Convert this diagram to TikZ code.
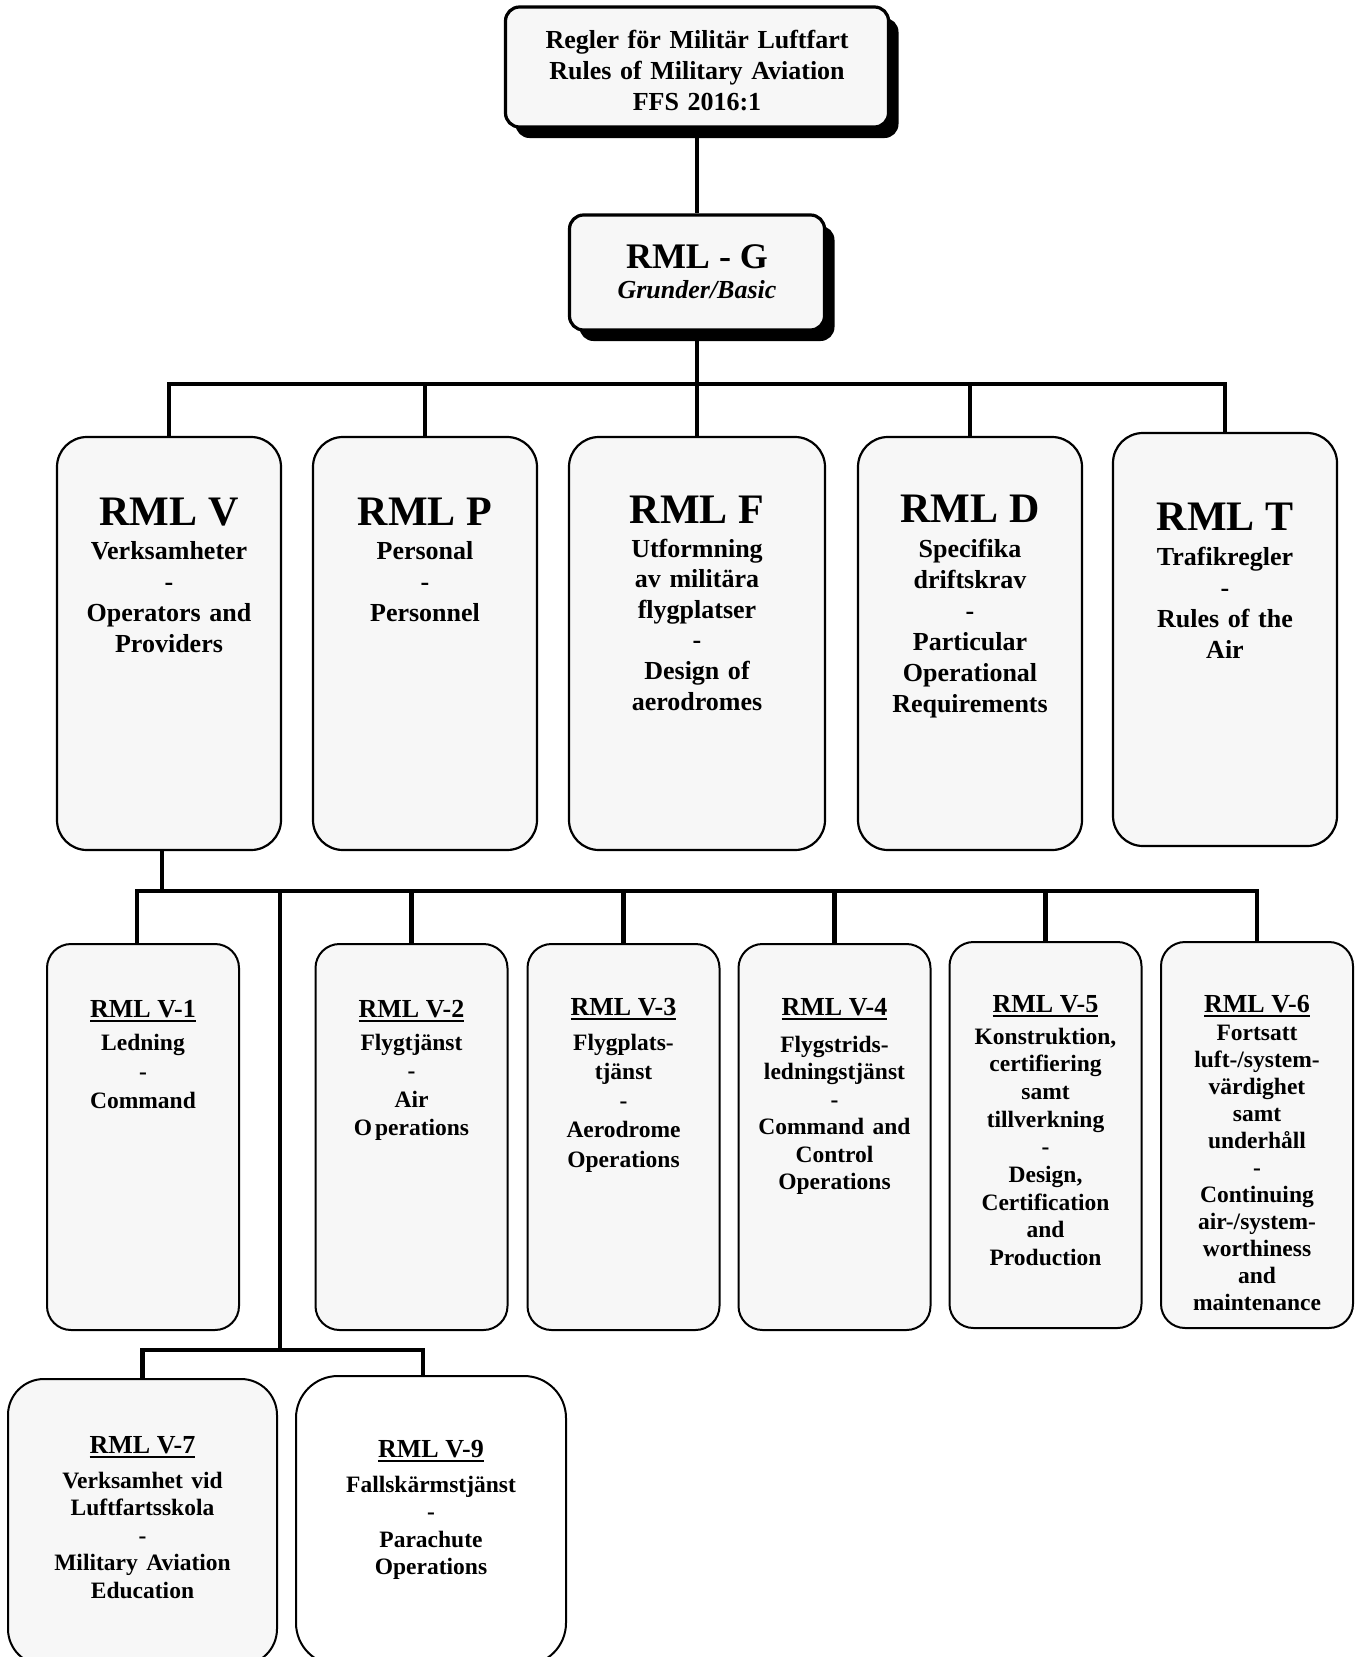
\documentclass[tikz,border=0pt]{standalone}
\usepackage{fontspec}
\setmainfont{Liberation Serif}
\usetikzlibrary{shadows}

\definecolor{boxgray}{HTML}{F7F7F7}

\newcommand{\rmlul}[1]{\setbox0\hbox{#1}\rlap{\rule[-5pt]{\wd0}{2pt}}\box0}

\tikzset{
  headbox/.style={draw,line width=3.2,rounded corners=14pt,fill=boxgray,inner sep=0pt,
    drop shadow={shadow xshift=10pt,shadow yshift=-11pt,fill=black,opacity=1}},
  mainbox/.style={draw,line width=2.2,rounded corners=30pt,fill=boxgray,inner sep=0pt,
    minimum width=224pt,minimum height=413pt},
  subbox/.style={draw,line width=2,rounded corners=24pt,fill=boxgray,inner sep=0pt,
    minimum width=192pt,minimum height=386pt},
  link/.style={line width=4.5},
  ttl/.style={anchor=base,inner sep=0pt,font=\fontsize{#1}{#1}\selectfont\bfseries},
  ttl/.default=26,
  txt/.style={anchor=base,inner sep=0pt,align=center,text width=230pt,
    execute at begin node={\fontsize{26}{#1}\selectfont\bfseries\spaceskip=.33em\xspaceskip=.33em}},
  txt/.default=31,
  subtxt/.style={anchor=base,inner sep=0pt,align=center,text width=190pt,
    execute at begin node={\fontsize{23.5}{#1}\selectfont\bfseries\spaceskip=.36em\xspaceskip=.36em}},
  subtxt/.default=28
}

\begin{document}
\begin{tikzpicture}[x=1pt,y=-1pt]

\useasboundingbox (0,0) rectangle (1355,1657);
\clip (0,0) rectangle (1355,1657);


\node[headbox,minimum width=383pt,minimum height=120pt] (head) at (697,67) {};
\node[txt=31,text width=380pt] (headtxt) at (697,48) {Regler för Militär Luftfart\\Rules of Military Aviation\\FFS 2016:1};

\node[headbox,minimum width=255pt,minimum height=115pt] (g) at (697,272.5) {};
\node[ttl=36] (gttl) at (697,268) {RML - G};
\node[anchor=base,inner sep=0pt,font=\fontsize{26}{26}\selectfont\bfseries\itshape] (gsub) at (697,298) {Grunder/Basic};


\node[mainbox] (v) at (169,643.5) {};
\node[mainbox] (p) at (425,643.5) {};
\node[mainbox,minimum width=256pt] (f) at (697,643.5) {};
\node[mainbox] (d) at (970,643.5) {};
\node[mainbox] (t) at (1225,639.5) {};

\node[ttl=42] (vttl) at (169,525) {RML V};
\node[txt=31] (vtxt) at (169,559) {Verksamheter\\-\\Operators and\\Providers};

\node[ttl=42] (pttl) at (425,525) {RML P};
\node[txt=31] (ptxt) at (425,559) {Personal\\-\\Personnel};

\node[ttl=42] (fttl) at (697,523) {RML F};
\node[txt=30.6] (ftxt) at (697,557) {Utformning\\av militära\\flygplatser\\-\\Design of\\aerodromes};

\node[ttl=42] (dttl) at (970,522) {RML D};
\node[txt=31] (dtxt) at (970,557) {Specifika\\driftskrav\\-\\Particular\\Operational\\Requirements};

\node[ttl=42] (tttl) at (1225,530) {RML T};
\node[txt=31.3] (ttxt) at (1225,565) {Trafikregler\\-\\Rules of the\\Air};


\node[subbox] (v1) at (143,1137) {};
\node[subbox] (v2) at (411.5,1137) {};
\node[subbox] (v3) at (623.5,1137) {};
\node[subbox] (v4) at (834.5,1137) {};
\node[subbox] (v5) at (1045.5,1135) {};
\node[subbox] (v6) at (1257,1135) {};
\node[subbox,minimum width=269pt,minimum height=286pt,rounded corners=36pt] (v7) at (142.5,1522) {};
\node[subbox,minimum width=270pt,minimum height=289pt,rounded corners=42pt,fill=white] (v9) at (431,1520.5) {};

\node[ttl] (v1ttl) at (143,1017) {\rmlul{RML V-1}};
\node[subtxt=29] (v1txt) at (143,1050) {Ledning\\-\\Command};

\node[ttl] (v2ttl) at (411.5,1017) {\rmlul{RML V-2}};
\node[subtxt=28.5] (v2txt) at (411.5,1050) {Flygtjänst\\-\\Air\\O\hspace{3pt}perations};

\node[ttl] (v3ttl) at (623.5,1015) {\rmlul{RML V-3}};
\node[subtxt=29.3] (v3txt) at (623.5,1050) {Flygplats-\\tjänst\\-\\Aerodrome\\Operations};

\node[ttl] (v4ttl) at (834.5,1015) {\rmlul{RML V-4}};
\node[subtxt=27.5] (v4txt) at (834.5,1052) {Flygstrids-\\ledningstjänst\\-\\Command and\\Control\\Operations};

\node[ttl] (v5ttl) at (1045.5,1012) {\rmlul{RML V-5}};
\node[subtxt=27.7] (v5txt) at (1045.5,1044) {Konstruktion,\\certifiering\\samt\\tillverkning\\-\\Design,\\Certification\\and\\Production};

\node[ttl] (v6ttl) at (1257,1012) {\rmlul{RML V-6}};
\node[subtxt=27] (v6txt) at (1257,1040) {Fortsatt\\luft-/system-\\värdighet\\samt\\underhåll\\-\\Continuing\\air-/system-\\worthiness\\and\\maintenance};

\node[ttl] (v7ttl) at (142.5,1453) {\rmlul{RML V-7}};
\node[subtxt=27.5] (v7txt) at (142.5,1488) {Verksamhet vid\\Luftfartsskola\\-\\Military Aviation\\Education};

\node[ttl] (v9ttl) at (431,1457) {\rmlul{RML V-9}};
\node[subtxt=27.5] (v9txt) at (431,1492) {Fallskärmstjänst\\-\\Parachute\\Operations};


\coordinate (bus1) at (697,384);
\coordinate (bus2) at (280,891);
\coordinate (bus3) at (280,1350);

\draw[link] (head.south) -- (g.north);
\draw[link] (g.south) -- (f.north);
\draw[link] (v.north) |- (bus1) -| (t.north);
\draw[link] (p.north) -- (p.north |- bus1);
\draw[link] (d.north) -- (d.north |- bus1);

\draw[link] ([xshift=-7pt]v.south) -- ([xshift=-7pt]v.south |- bus2);
\draw[link] ([xshift=-6pt]v1.north) |- (bus2) -| (v6.north);
\draw[link] (v2.north) -- (v2.north |- bus2);
\draw[link] (v3.north) -- (v3.north |- bus2);
\draw[link] (v4.north) -- (v4.north |- bus2);
\draw[link] (v5.north) -- (v5.north |- bus2);

\draw[link] (bus2) -- (bus3);
\draw[link] (v7.north) |- (bus3) -| ([xshift=-8pt]v9.north);

%\draw[link] (v.south) -- (v1.north);

\end{tikzpicture}
\end{document}
